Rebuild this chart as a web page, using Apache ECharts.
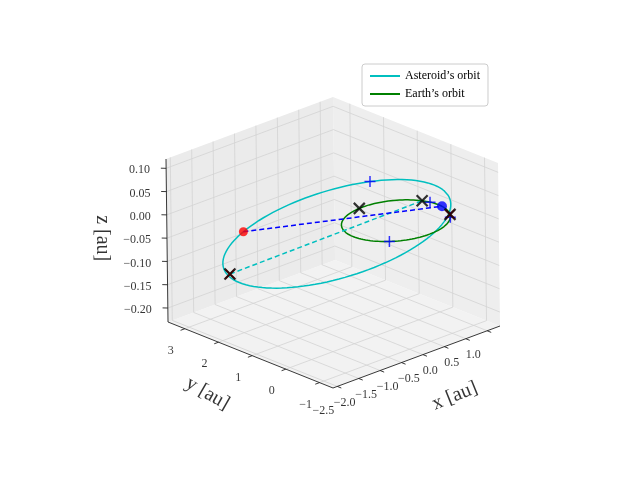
<!DOCTYPE html>
<html><head><meta charset="utf-8">
<script src="https://cdn.jsdelivr.net/npm/echarts@6/dist/echarts.min.js"></script>
<style>html,body{margin:0;padding:0;background:#fff}#c{width:640px;height:480px}</style>
</head><body><div id="c"></div>
<script>
// ---- data ----
const xTicks = [-2.5,-2.0,-1.5,-1.0,-0.5,0.0,0.5,1.0];
const yTicks = [-1,0,1,2,3];
const zTicks = [-0.20,-0.15,-0.10,-0.05,0.00,0.05,0.10];
const xRange = [-2.6,1.3], yRange = [-1.4,3.5], zRange = [-0.23,0.12];
// asteroid orbit elements (semi-major axis au, eccentricity, perihelion direction deg, z slopes)
const astA = 2.1, astE = 0.52, astPeriDeg = -44, astSlopeMajor = 0.0214, astSlopeMinor = 0.013;
const earthR = 1.0;
const earthXAngles = [23, 94];      // black X on Earth orbit
const earthDotAngle = -6;           // Earth (blue dot)
const earthRedXAngle = -32;
const earthPlusAngles = [13, -40, 225];
const astDotE = 150;                // asteroid (red dot), eccentric anomaly deg
const astPlusE = [78];
const offPoint = [-1.52, 3.02, -0.15]; // red/black X below the orbit

// ---- projection (view frame) ----
function P(x,y,z){
  const u=x-xRange[0], v=y-yRange[0], w=z-zRange[0];
  const ux=167/(xRange[1]-xRange[0]), uy=62/(xRange[1]-xRange[0]);
  const vx=165/(yRange[1]-yRange[0]), vy=66/(yRange[1]-yRange[0]);
  const wx=2/(zRange[1]-zRange[0]), wy=163/(zRange[1]-zRange[0]);
  return [333+ux*u-vx*v-wx*w, 388-uy*u-vy*v-wy*w];
}
const r=Math.PI/180;
const dx=Math.cos(astPeriDeg*r), dy=Math.sin(astPeriDeg*r), mx=-dy, my=dx;
function astPt(Edeg){
  const E=Edeg*r, b=astA*Math.sqrt(1-astE*astE);
  const pd=astA*(Math.cos(E)-astE), pm=b*Math.sin(E);
  return [pd*dx+pm*mx, pd*dy+pm*my, astSlopeMajor*pd+astSlopeMinor*pm];
}
function earthPt(a){return [earthR*Math.cos(a*r), earthR*Math.sin(a*r), 0];}
const astOrbit=[], earthOrbit=[];
for(let k=0;k<=360;k+=3){astOrbit.push(P(...astPt(k)));earthOrbit.push(P(...earthPt(k)));}

const [x0,x1]=xRange,[y0,y1]=yRange,[z0,z1]=zRange;
const panes=[
  [[x0,y0,z0],[x1,y0,z0],[x1,y1,z0],[x0,y1,z0]],
  [[x1,y0,z0],[x1,y1,z0],[x1,y1,z1],[x1,y0,z1]],
  [[x0,y1,z0],[x1,y1,z0],[x1,y1,z1],[x0,y1,z1]]
];
const gridSegs=[];
xTicks.forEach(t=>{gridSegs.push([[t,y0,z0],[t,y1,z0]]);gridSegs.push([[t,y1,z0],[t,y1,z1]]);});
yTicks.forEach(t=>{gridSegs.push([[x0,t,z0],[x1,t,z0]]);gridSegs.push([[x1,t,z0],[x1,t,z1]]);});
zTicks.forEach(t=>{gridSegs.push([[x1,y0,t],[x1,y1,t]]);gridSegs.push([[x0,y1,t],[x1,y1,t]]);});
const axisSegs=[[[x0,y0,z0],[x1,y0,z0]],[[x0,y0,z0],[x0,y1,z0]],[[x0,y1,z0],[x0,y1,z1]]];
xTicks.forEach(t=>axisSegs.push([[t,y0,z0],[t,y0-0.12,z0]]));
yTicks.forEach(t=>axisSegs.push([[x0,t,z0],[x0-0.1,t,z0]]));
zTicks.forEach(t=>axisSegs.push([[x0,y1,t],[x0-0.06,y1+0.08,t]]));

function segSeries(segs,color,w,z){
  const d=[];segs.forEach(s=>{d.push(P(...s[0]));d.push(P(...s[1]));d.push('-');});
  return {type:'line',data:d,symbol:'none',silent:true,z:z,connectNulls:false,lineStyle:{color:color,width:w}};
}
const serif='"Liberation Serif","DejaVu Serif",serif';
function labelSeries(pts,texts,offset,align,size,rot){
  return {type:'scatter',symbolSize:0,silent:true,z:5,data:pts.map((p,i)=>({value:p,label:{formatter:texts[i]}})),
    label:{show:true,position:'inside',offset:offset,fontFamily:serif,fontSize:size,color:'#000',align:align,rotate:rot||0}};
}
const xLabPts=xTicks.map(t=>P(t,y0,z0)), yLabPts=yTicks.map(t=>P(x0,t,z0)), zLabPts=zTicks.map(t=>P(x0,y1,t));
const xLab=xTicks.map(t=>(t<0?'\u2212':'')+Math.abs(t).toFixed(1));
const yLab=yTicks.map(t=>(t<0?'\u2212':'')+Math.abs(t));
const zLab=zTicks.map(t=>(t<0?'\u2212':'')+Math.abs(t).toFixed(2));

const redDot=P(...astPt(astDotE)), blueDot=P(...earthPt(earthDotAngle)), offP=P(...offPoint);
const earthX=earthXAngles.map(a=>P(...earthPt(a))), earthRedX=P(...earthPt(earthRedXAngle));
const plusPts=earthPlusAngles.map(a=>P(...earthPt(a))).concat(astPlusE.map(e=>P(...astPt(e))));
const xPath='path://M0,0L10,10M10,0L0,10';
const plusPath='path://M5,0L5,10M0,5L10,5';

const option={
  animation:false,
  grid:{left:0,right:0,top:0,bottom:0},
  xAxis:{type:'value',min:0,max:640,show:false},
  yAxis:{type:'value',min:0,max:480,inverse:true,show:false},
  legend:{left:362,top:64,orient:'vertical',itemWidth:30,itemHeight:2,itemGap:6,padding:[6,8],
    borderColor:'#ccc',borderWidth:1,borderRadius:3,backgroundColor:'#fff',
    textStyle:{fontFamily:serif,fontSize:12,color:'#000'},
    data:[{name:'Asteroid\u2019s orbit',icon:'rect'},{name:'Earth\u2019s orbit',icon:'rect'}]},
  series:[
    {type:'custom',silent:true,z:0,data:panes.map((p,i)=>[i]),renderItem:(params,api)=>{
      const pane=panes[params.dataIndex];
      return {type:'polygon',shape:{points:pane.map(q=>api.coord(P(...q)))},style:{fill:['#f2f2f2','#eeeeee','#ebebeb'][params.dataIndex]}};
    }},
    segSeries(gridSegs,'#d3d3d3',0.8,1),
    segSeries(axisSegs,'#222',0.9,2),
    labelSeries(xLabPts,xLab,[-14,24],'center',12),
    labelSeries(yLabPts,yLab,[-14,22],'center',12),
    labelSeries(zLabPts,zLab,[-16,2],'right',12),
    labelSeries([P(-0.3,y0,z0)],['x [au]'],[5,50],'center',20,22),
    labelSeries([P(x0-1.2,0.8,z0)],['y [au]'],[8,14],'center',20,-30),
    labelSeries([P(x0,y1,-0.05)],['z [au]'],[0,65],'center',20,-90),
    {name:'Asteroid\u2019s orbit',type:'line',data:astOrbit,symbol:'none',z:10,color:'#00bfbf',lineStyle:{color:'#00bfbf',width:1.5}},
    {name:'Earth\u2019s orbit',type:'line',data:earthOrbit,symbol:'none',z:10,color:'#008000',lineStyle:{color:'#008000',width:1.5}},
    {type:'line',data:[offP,earthX[0]],symbol:'none',z:11,lineStyle:{color:'#00bfbf',width:1.5,type:[5,3]}},
    {type:'line',data:[redDot,blueDot],symbol:'none',z:11,lineStyle:{color:'#0000ff',width:1.5,type:[5,3]}},
    {type:'scatter',data:[redDot],symbol:'circle',symbolSize:9,z:12,itemStyle:{color:'#ff0000'}},
    {type:'scatter',data:[blueDot],symbol:'circle',symbolSize:10,z:12,itemStyle:{color:'#0000ff'}},
    {type:'scatter',data:plusPts,symbol:plusPath,symbolSize:11,z:12,itemStyle:{color:'none',borderColor:'#0000ff',borderWidth:1.5}},
    {type:'scatter',data:[offP,earthRedX],symbol:xPath,symbolSize:9,z:13,itemStyle:{color:'none',borderColor:'#ff0000',borderWidth:1.8}},
    {type:'scatter',data:earthX.concat([offP,earthRedX]),symbol:xPath,symbolSize:11,z:14,itemStyle:{color:'none',borderColor:'#000',borderWidth:2.2}}
  ]
};
echarts.init(document.getElementById('c')).setOption(option);
</script></body></html>
